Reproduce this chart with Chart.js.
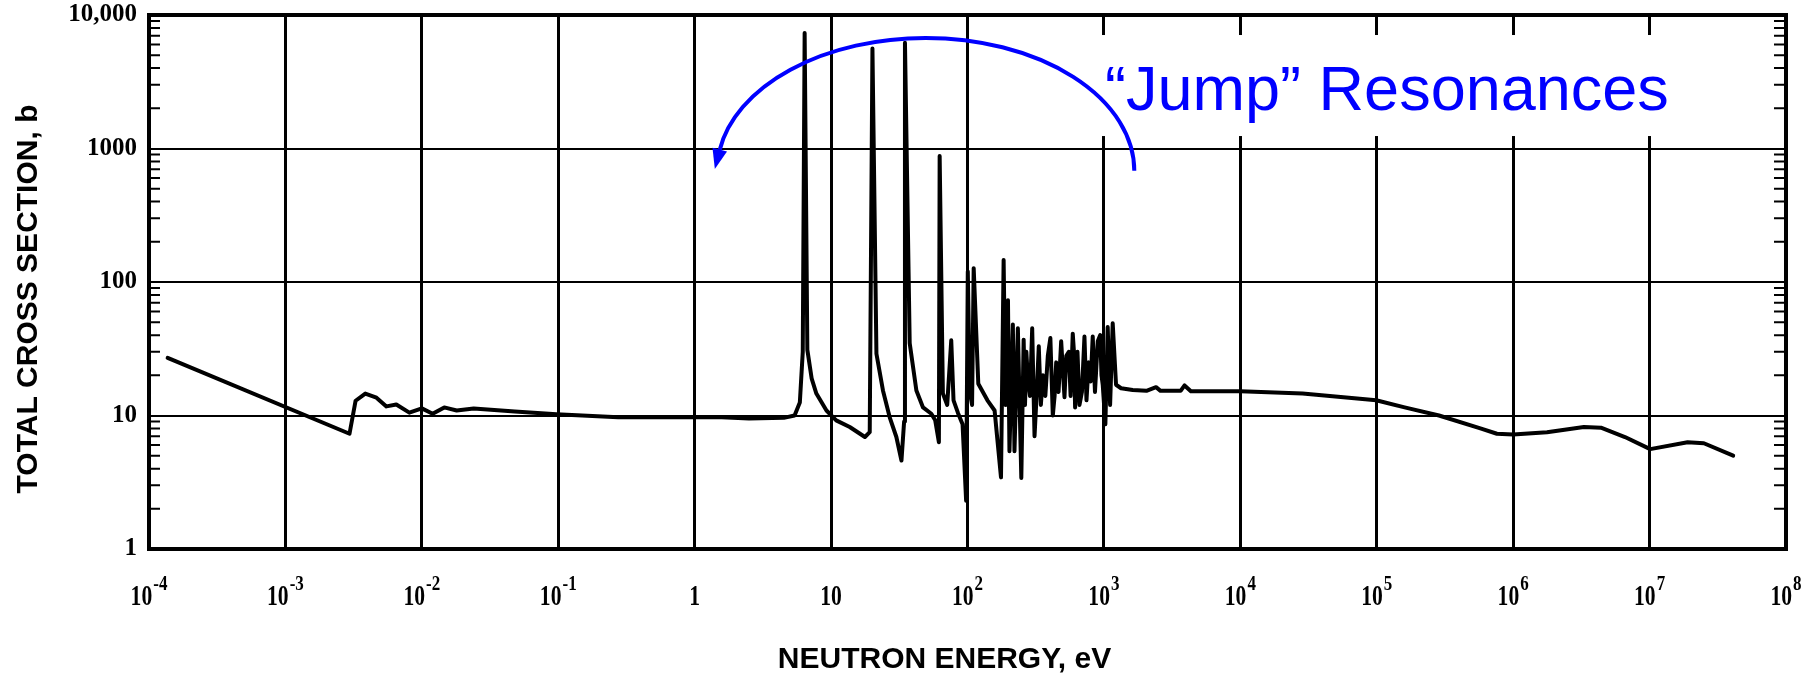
<!DOCTYPE html>
<html>
<head>
<meta charset="utf-8">
<title>Total cross section vs neutron energy</title>
<script src="https://cdn.jsdelivr.net/npm/chart.js@4.4.0/dist/chart.umd.min.js"></script>
<style>
  html, body { margin: 0; padding: 0; background: #fff; }
  #wrap { width: 1808px; height: 678px; }
</style>
</head>
<body>
<div id="wrap"><canvas id="xsChart" width="1808" height="678"></canvas></div>
<script>
// 1/v part and thermal wiggles (energy in eV, cross section in barns)
const thermalEnergy = [1.37e-4, 2.95e-3, 3.27e-3, 3.85e-3, 4.65e-3, 5.5e-3, 6.5e-3, 8.1e-3, 0.010, 0.012, 0.0146, 0.018, 0.024, 0.048, 0.097, 0.275, 1.58];
const thermalSigma  = [27, 7.3, 12.9, 14.6, 13.6, 11.7, 12.1, 10.5, 11.3, 10.3, 11.5, 10.9, 11.3, 10.7, 10.2, 9.7, 9.7];

// resolved resonance region
const resonanceEnergy = [2.5, 4.5, 5.4, 5.9, 6.2, 6.4, 6.7, 7.2, 7.8, 9.25, 10.9, 13.7, 17.7, 19.2, 20.1, 21.5, 24, 26.9, 30.1, 32.8,
    34.3, 34.8, 37.7, 42.2, 47.2, 54.3, 58, 61.7, 62.5, 66, 71, 76, 79, 85, 92, 97.7, 100.5, 104, 108, 111,
    120, 140, 158, 176, 184, 190, 198, 203, 215, 221, 234, 248, 258, 264, 270, 277, 287, 298, 310, 322,
    333, 345, 357, 372, 388, 405, 422, 435, 447, 465, 486, 500, 514, 530, 553, 570, 591, 603, 615, 640,
    662, 690, 720, 745, 774, 800, 828, 860, 901, 940, 960, 980, 1025, 1066, 1110, 1160, 1227, 1336, 1626];
const resonanceSigma = [9.5, 9.6, 10.0, 12.5, 30, 7330, 31, 19, 14.6, 10.9, 9.2, 8.2, 6.9, 7.5, 5600, 29, 15.4, 9.7, 6.9, 4.6,
    9, 6200, 34.8, 15.4, 11.5, 10.3, 9.2, 6.3, 880, 14.6, 12, 36.6, 13, 10.5, 8.6, 2.3, 120, 15, 12, 127,
    17.3, 13, 10.9, 3.44, 146, 12, 73, 5.4, 48, 5.4, 45, 3.4, 37, 12, 30, 19, 14, 45, 7, 15,
    33, 12, 20, 14, 28, 38, 10, 14, 25, 15, 36, 22, 13.7, 28, 30, 14, 41, 30, 11.5, 30,
    12, 15, 39, 13, 25, 18, 39, 15, 36, 40, 20, 17, 8.6, 46, 12, 49, 17, 16, 15.5];

// unresolved / fast region
const fastEnergy = [2050, 2410, 2600, 3650, 3900, 4340, 1e4, 2.86e4, 9.9e4, 1.6e5, 2.86e5, 5.75e5, 7.6e5, 1e6, 1.77e6, 3.3e6, 4.4e6, 6.6e6, 1.01e7, 1.9e7, 2.5e7, 4.1e7];
const fastSigma  = [15.3, 16.3, 15.3, 15.3, 16.8, 15.2, 15.2, 14.6, 13.0, 11.5, 10, 8, 7.3, 7.2, 7.5, 8.2, 8.1, 6.9, 5.6, 6.3, 6.2, 5.0];

// axes
const xTickValues = [1e-4, 1e-3, 1e-2, 1e-1, 1, 10, 1e2, 1e3, 1e4, 1e5, 1e6, 1e7, 1e8];
const xTickLabels = [['10', '-4'], ['10', '-3'], ['10', '-2'], ['10', '-1'], ['1', ''], ['10', ''],
    ['10', '2'], ['10', '3'], ['10', '4'], ['10', '5'], ['10', '6'], ['10', '7'], ['10', '8']];
const yTickValues = [1, 10, 100, 1000, 10000];
const yTickLabels = ['1', '10', '100', '1000', '10,000'];
const xTitle = 'NEUTRON ENERGY, eV';
const yTitle = 'TOTAL CROSS SECTION, b';

// annotation anchors, in data units
const noteText = '\u201CJump\u201D Resonances';
const noteTextAt = { energy: 1020, sigma: 1940 };
const noteBox = { e0: 850, e1: 1.9e7, s0: 1240, s1: 7080 };
const noteArc = { eLeft: 1.46, eRight: 1670, sEnds: 680, sTop: 6730 };

const energy = [...thermalEnergy, ...resonanceEnergy, ...fastEnergy];
const sigma = [...thermalSigma, ...resonanceSigma, ...fastSigma];
const points = energy.map((e, i) => ({ x: e, y: sigma[i] }));

const serif = '"Liberation Serif", "DejaVu Serif", serif';
const sans = '"Liberation Sans", Arial, sans-serif';

function drawSqueezed(ctx, text, x, y, font, squeeze) {
    ctx.save();
    ctx.font = font;
    ctx.translate(x, y);
    ctx.scale(squeeze, 1);
    ctx.fillText(text, 0, 0);
    ctx.restore();
}

// inward minor ticks on left and right edges
const minorTicks = {
    id: 'minorTicks',
    afterDatasetsDraw(chart) {
        const { ctx, chartArea: a, scales: { y } } = chart;
        ctx.save();
        ctx.strokeStyle = '#000';
        ctx.lineWidth = 2;
        ctx.beginPath();
        for (let d = 1; d < 10000; d *= 10) {
            for (let m = 2; m <= 9; m++) {
                const py = y.getPixelForValue(m * d);
                ctx.moveTo(a.left, py);
                ctx.lineTo(a.left + 11, py);
                ctx.moveTo(a.right, py);
                ctx.lineTo(a.right - 12, py);
            }
        }
        ctx.stroke();
        ctx.restore();
    }
};

// heavy frame round the plot
const frame = {
    id: 'frame',
    afterDatasetsDraw(chart) {
        const { ctx, chartArea: a } = chart;
        ctx.save();
        ctx.strokeStyle = '#000';
        ctx.lineWidth = 4;
        ctx.strokeRect(a.left, a.top, a.right - a.left, a.bottom - a.top);
        ctx.restore();
    }
};

// 10 with raised exponent under each decade, plus both axis titles
const axisText = {
    id: 'axisText',
    afterDraw(chart) {
        const { ctx, chartArea: a, scales: { x } } = chart;
        const baseFont = 'bold 30px ' + serif;
        const expFont = 'bold 20px ' + serif;
        ctx.save();
        ctx.fillStyle = '#000';
        ctx.textBaseline = 'alphabetic';
        xTickValues.forEach((v, i) => {
            const [base, exp] = xTickLabels[i];
            const px = x.getPixelForValue(v);
            ctx.font = baseFont;
            const wb = ctx.measureText(base).width * 0.72;
            ctx.font = expFont;
            const we = exp ? ctx.measureText(exp).width * 0.85 + 1 : 0;
            const left = px - (wb + we) / 2;
            drawSqueezed(ctx, base, left, 605, baseFont, 0.72);
            if (exp) drawSqueezed(ctx, exp, left + wb + 1, 590, expFont, 0.85);
        });

        ctx.font = 'bold 30px ' + sans;
        ctx.textAlign = 'center';
        ctx.textBaseline = 'middle';
        ctx.fillText(xTitle, (a.left + a.right) / 2 - 23, 660);

        ctx.translate(29, 299);
        ctx.rotate(-Math.PI / 2);
        ctx.fillText(yTitle, 0, 0);
        ctx.restore();
    }
};

// blue arc, arrow and label
const jumpNote = {
    id: 'jumpNote',
    afterDraw(chart) {
        const { ctx, scales: { x, y } } = chart;
        ctx.save();

        // white patch behind the label, hides the grid there
        const bx0 = x.getPixelForValue(noteBox.e0), bx1 = x.getPixelForValue(noteBox.e1);
        const by0 = y.getPixelForValue(noteBox.s1), by1 = y.getPixelForValue(noteBox.s0);
        ctx.fillStyle = '#fff';
        ctx.fillRect(bx0, by0, bx1 - bx0, by1 - by0);

        ctx.fillStyle = '#0000ff';
        ctx.font = '63px ' + sans;
        ctx.textBaseline = 'alphabetic';
        ctx.fillText(noteText, x.getPixelForValue(noteTextAt.energy), y.getPixelForValue(noteTextAt.sigma));

        const xl = x.getPixelForValue(noteArc.eLeft), xr = x.getPixelForValue(noteArc.eRight);
        const cy = y.getPixelForValue(noteArc.sEnds);
        const cx = (xl + xr) / 2, rx = (xr - xl) / 2;
        const ry = cy - y.getPixelForValue(noteArc.sTop);
        const d = 0.16;
        ctx.strokeStyle = '#0000ff';
        ctx.lineWidth = 4;
        ctx.beginPath();
        ctx.ellipse(cx, cy, rx, ry, 0, 0, -(Math.PI - d), true);
        ctx.stroke();

        // arrow head at the left end
        const px = cx - rx * Math.cos(d), py = cy - ry * Math.sin(d);
        let ux = -rx * Math.sin(d), uy = ry * Math.cos(d);
        const len = Math.hypot(ux, uy);
        ux /= len; uy /= len;
        const L = 20, W = 15;
        ctx.beginPath();
        ctx.moveTo(px + ux * L, py + uy * L);
        ctx.lineTo(px - uy * W / 2, py + ux * W / 2);
        ctx.lineTo(px + uy * W / 2, py - ux * W / 2);
        ctx.closePath();
        ctx.fillStyle = '#0000ff';
        ctx.fill();
        ctx.restore();
    }
};

new Chart(document.getElementById('xsChart'), {
    type: 'line',
    data: {
        datasets: [{
            data: points,
            borderColor: '#000',
            borderWidth: 4,
            pointRadius: 0,
            tension: 0,
            fill: false,
            borderJoinStyle: 'round',
            borderCapStyle: 'round'
        }]
    },
    options: {
        responsive: false,
        animation: false,
        devicePixelRatio: 1,
        layout: { padding: { top: 15, right: 22, left: 0, bottom: 0 } },
        plugins: {
            legend: { display: false },
            tooltip: { enabled: false }
        },
        scales: {
            x: {
                type: 'logarithmic',
                min: 1e-4,
                max: 1e8,
                afterBuildTicks: s => { s.ticks = xTickValues.map(v => ({ value: v })); },
                afterFit: s => { s.height = 129; s.paddingLeft = 0; s.paddingRight = 0; },
                ticks: { display: false },
                grid: { color: '#000', lineWidth: 3, drawTicks: false },
                border: { display: false }
            },
            y: {
                type: 'logarithmic',
                min: 1,
                max: 10000,
                afterBuildTicks: s => { s.ticks = yTickValues.map(v => ({ value: v })); },
                afterFit: s => { s.width = 149; s.paddingTop = 0; s.paddingBottom = 0; },
                ticks: {
                    color: '#000',
                    padding: 12,
                    font: { family: serif, size: 25, weight: 'bold' },
                    callback: v => yTickLabels[yTickValues.indexOf(v)]
                },
                grid: { color: '#000', lineWidth: 2, drawTicks: false },
                border: { display: false }
            }
        }
    },
    plugins: [minorTicks, frame, axisText, jumpNote]
});
</script>
</body>
</html>
